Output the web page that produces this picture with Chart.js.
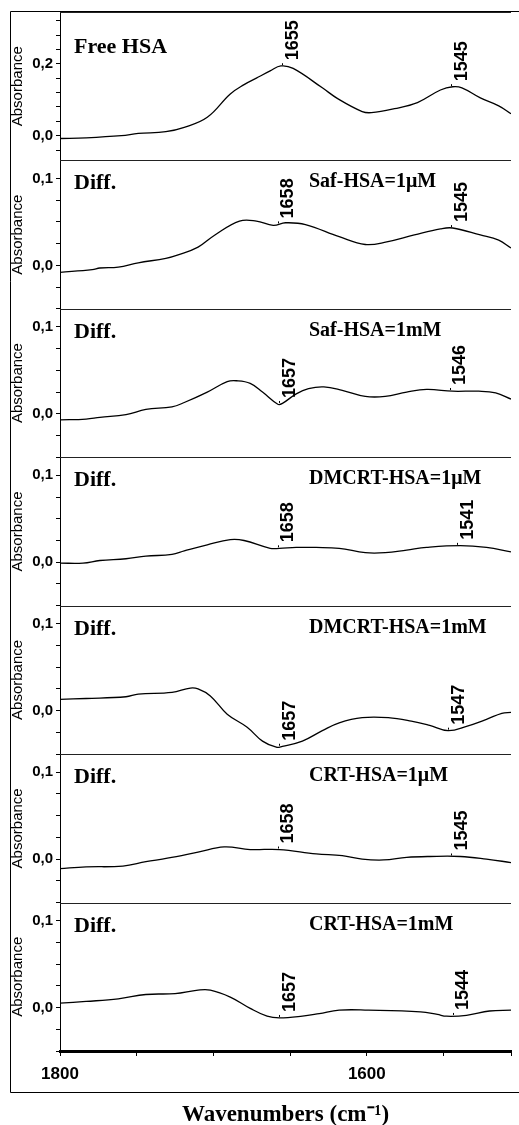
<!DOCTYPE html>
<html>
<head>
<meta charset="utf-8">
<title>HSA amide I / II difference spectra</title>
<script src="https://cdn.jsdelivr.net/npm/chart.js@4.4.1/dist/chart.umd.min.js"></script>
<style>
  html, body { margin: 0; padding: 0; background: #fff; }
  #wrap { width: 519px; height: 1125px; }
</style>
</head>
<body>
<div id="wrap"><canvas id="spectra" width="519" height="1125"></canvas></div>
<script>
// spectra: wavenumber (cm-1) and absorbance, top panel first
const wnFree = [1800, 1783, 1760, 1749, 1731, 1719, 1704, 1689, 1680, 1672, 1663, 1656, 1648, 1629, 1619, 1603, 1597, 1582, 1567, 1552, 1544, 1538, 1526, 1514, 1506];
const absFree = [-0.008, -0.006, 0.000, 0.006, 0.011, 0.023, 0.051, 0.116, 0.142, 0.160, 0.180, 0.194, 0.187, 0.133, 0.103, 0.067, 0.064, 0.075, 0.092, 0.127, 0.136, 0.133, 0.105, 0.083, 0.061];

const wnSaf1uM = [1800, 1779, 1774, 1762, 1749, 1731, 1723, 1710, 1699, 1683, 1672, 1661, 1653, 1640, 1618, 1601, 1587, 1569, 1552, 1544, 1526, 1514, 1506];
const absSaf1uM = [-0.008, -0.005, -0.003, -0.002, 0.003, 0.008, 0.012, 0.021, 0.035, 0.051, 0.051, 0.046, 0.049, 0.047, 0.033, 0.024, 0.027, 0.035, 0.042, 0.043, 0.035, 0.029, 0.020];

const wnSaf1mM = [1800, 1783, 1774, 1757, 1744, 1727, 1719, 1704, 1691, 1685, 1676, 1668, 1658, 1655, 1646, 1638, 1628, 1616, 1601, 1588, 1574, 1561, 1544, 1527, 1516, 1506];
const absSaf1mM = [-0.007, -0.006, -0.004, -0.001, 0.005, 0.008, 0.013, 0.025, 0.037, 0.038, 0.035, 0.025, 0.011, 0.012, 0.023, 0.029, 0.031, 0.027, 0.020, 0.020, 0.025, 0.028, 0.026, 0.026, 0.024, 0.017];

const wnDm1uM = [1800, 1785, 1774, 1757, 1744, 1727, 1719, 1704, 1689, 1680, 1663, 1657, 1646, 1633, 1618, 1601, 1588, 1574, 1561, 1539, 1522, 1506];
const absDm1uM = [-0.001, -0.001, 0.002, 0.004, 0.007, 0.009, 0.013, 0.020, 0.026, 0.025, 0.016, 0.016, 0.017, 0.017, 0.016, 0.011, 0.011, 0.014, 0.017, 0.019, 0.017, 0.012];

const wnDm1mM = [1800, 1783, 1757, 1749, 1727, 1715, 1710, 1702, 1691, 1678, 1668, 1659, 1655, 1642, 1629, 1618, 1603, 1586, 1571, 1559, 1547, 1535, 1522, 1512, 1506];
const absDm1mM = [0.013, 0.014, 0.016, 0.019, 0.021, 0.026, 0.025, 0.017, -0.004, -0.019, -0.035, -0.042, -0.041, -0.035, -0.023, -0.014, -0.008, -0.008, -0.012, -0.017, -0.023, -0.018, -0.010, -0.003, -0.002];

const wnCrt1uM = [1800, 1783, 1759, 1744, 1730, 1710, 1693, 1676, 1657, 1633, 1616, 1603, 1589, 1574, 1559, 1539, 1522, 1506];
const absCrt1uM = [-0.011, -0.009, -0.008, -0.003, 0.001, 0.008, 0.014, 0.011, 0.011, 0.006, 0.004, 0.000, -0.001, 0.002, 0.003, 0.003, 0.000, -0.004];

const wnCrt1mM = [1800, 1783, 1762, 1744, 1725, 1710, 1702, 1689, 1676, 1665, 1657, 1642, 1631, 1618, 1599, 1565, 1554, 1548, 1535, 1520, 1506];
const absCrt1mM = [0.005, 0.007, 0.010, 0.015, 0.016, 0.020, 0.020, 0.012, -0.001, -0.010, -0.012, -0.010, -0.007, -0.003, -0.003, -0.005, -0.008, -0.010, -0.009, -0.004, -0.003];

// panel captions and marked band positions
const panelNames = ['Free HSA', 'Saf-HSA=1μM', 'Saf-HSA=1mM', 'DMCRT-HSA=1μM', 'DMCRT-HSA=1mM', 'CRT-HSA=1μM', 'CRT-HSA=1mM'];
const peakBands = [[1655, 1545], [1658, 1545], [1657, 1546], [1658, 1541], [1657, 1547], [1658, 1545], [1657, 1544]];

// tick labels
const xTickLabels = [1800, 1600];
const yTickLabelsFree = [0.0, 0.2];
const yTickLabelsDiff = [0.0, 0.1];

const SERIF = '"Liberation Serif", "Times New Roman", serif';
const SANS = '"Liberation Sans", Arial, sans-serif';

const panels = [
    { wn: wnFree, abs: absFree },
    { wn: wnSaf1uM, abs: absSaf1uM },
    { wn: wnSaf1mM, abs: absSaf1mM },
    { wn: wnDm1uM, abs: absDm1uM },
    { wn: wnDm1mM, abs: absDm1mM },
    { wn: wnCrt1uM, abs: absCrt1uM },
    { wn: wnCrt1mM, abs: absCrt1mM }
];

function toPoints(wn, abs) {
    return wn.map((w, i) => ({ x: w, y: abs[i] }));
}

// linear lookup on a descending wavenumber list, used to sit the band labels on the curve
function valueAt(wn, abs, w) {
    for (let i = 0; i < wn.length - 1; i++) {
        if (wn[i] >= w && wn[i + 1] <= w) {
            let t = (wn[i] - w) / (wn[i] - wn[i + 1]);
            return abs[i] + t * (abs[i + 1] - abs[i]);
        }
    }
    return abs[abs.length - 1];
}

function sameValue(list, v) {
    return list.some(l => Math.abs(l - v) < 1e-6);
}

const decorations = {
    id: 'decorations',
    afterDraw(chart) {
        const ctx = chart.ctx;
        const area = chart.chartArea;
        const xs = chart.scales.x;
        ctx.save();

        // outer frame (right side runs off the picture)
        ctx.strokeStyle = '#000';
        ctx.lineWidth = 1;
        ctx.beginPath();
        ctx.moveTo(519, 11.5);
        ctx.lineTo(10.5, 11.5);
        ctx.lineTo(10.5, 1092.5);
        ctx.lineTo(519, 1092.5);
        ctx.stroke();

        panels.forEach((p, i) => {
            const ys = chart.scales['y' + i];
            const top = Math.round(ys.top);

            // divider between panels
            ctx.strokeStyle = '#222';
            ctx.lineWidth = 1;
            ctx.beginPath();
            ctx.moveTo(area.left, top + 0.5);
            ctx.lineTo(area.right, top + 0.5);
            ctx.stroke();

            ctx.fillStyle = '#000';
            ctx.textAlign = 'left';
            ctx.textBaseline = 'alphabetic';
            if (i === 0) {
                ctx.font = 'bold 22px ' + SERIF;
                ctx.fillText(panelNames[i], 74, top + 40.5);
            } else {
                ctx.font = 'bold 22px ' + SERIF;
                ctx.fillText('Diff.', 74, top + 28.5);
                ctx.font = 'bold 20px ' + SERIF;
                ctx.fillText(panelNames[i], 309, top + 27);
            }

            // band labels, rotated, standing on the curve
            ctx.font = 'bold 18px ' + SANS;
            peakBands[i].forEach(w => {
                const px = xs.getPixelForValue(w);
                const py = ys.getPixelForValue(valueAt(p.wn, p.abs, w));
                ctx.strokeStyle = '#000';
                ctx.beginPath();
                ctx.moveTo(Math.round(px) + 0.5, py - 1);
                ctx.lineTo(Math.round(px) + 0.5, py - 3);
                ctx.stroke();
                ctx.save();
                ctx.translate(px + 15.5, py - 6);
                ctx.rotate(-Math.PI / 2);
                ctx.fillText(String(w), 0, 0);
                ctx.restore();
            });
        });
        ctx.restore();
    }
};

function setup() {
    let datasets = panels.map((p, i) => ({
        label: panelNames[i],
        data: toPoints(p.wn, p.abs),
        yAxisID: 'y' + i,
        borderColor: '#000',
        borderWidth: 1.3,
        pointRadius: 0,
        fill: false,
        tension: 0.4
    }));

    let scales = {
        x: {
            type: 'linear',
            reverse: true,
            min: 1506,
            max: 1800,
            border: { display: true, color: '#000', width: 3 },
            grid: { drawOnChartArea: false, drawTicks: true, tickLength: 5, color: '#000' },
            ticks: {
                stepSize: 50,
                autoSkip: false,
                maxRotation: 0,
                minRotation: 0,
                padding: 8,
                color: '#000',
                font: { family: SANS, size: 17, weight: 'bold' },
                callback: v => sameValue(xTickLabels, v) ? String(v) : ''
            },
            title: {
                display: true,
                text: 'Wavenumbers (cm⁻¹)',
                color: '#000',
                font: { family: SERIF, size: 23, weight: 'bold', lineHeight: 0.9 },
                padding: 0
            },
            afterFit: s => { s.height = 74; }
        }
    };

    panels.forEach((p, i) => {
        let labels = i === 0 ? yTickLabelsFree : yTickLabelsDiff;
        scales['y' + i] = {
            type: 'linear',
            position: 'left',
            stack: 'panels',
            stackWeight: 1,
            weight: panels.length - i,
            min: i === 0 ? -0.069 : -0.05,
            max: i === 0 ? 0.344 : 0.1207,
            border: { display: true, color: '#000', width: 1 },
            grid: { drawOnChartArea: false, drawTicks: true, tickLength: 4, color: '#000' },
            ticks: {
                stepSize: i === 0 ? 0.04 : 0.025,
                includeBounds: false,
                autoSkip: false,
                padding: 3,
                color: '#000',
                font: { family: SANS, size: 15, weight: 'bold' },
                callback: v => sameValue(labels, v) ? v.toFixed(1).replace('.', ',') : ''
            },
            title: {
                display: true,
                text: 'Absorbance',
                color: '#000',
                font: { family: SANS, size: 15, lineHeight: 1.07 },
                padding: 0
            },
            afterFit: s => { s.width = 50; }
        };
    });

    let config = {
        type: 'line',
        data: { datasets: datasets },
        options: {
            responsive: false,
            animation: false,
            layout: { padding: { left: 10, top: 11, right: 0, bottom: 0 } },
            plugins: { legend: { display: false }, tooltip: { enabled: false } },
            scales: scales
        },
        plugins: [decorations]
    };
    new Chart(document.getElementById('spectra'), config);
}

window.onload = setup;
</script>
</body>
</html>
